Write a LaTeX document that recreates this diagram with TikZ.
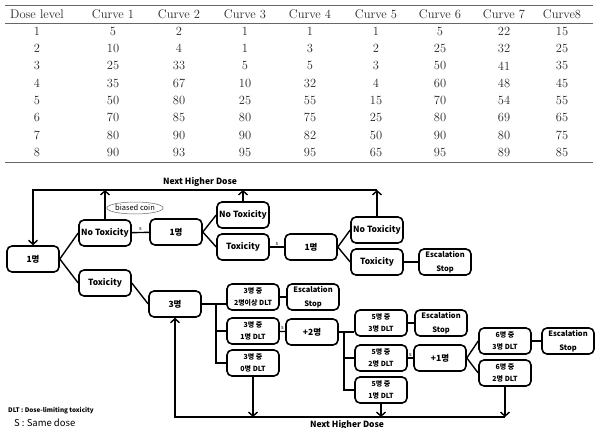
\documentclass[tikz,border=0pt]{standalone}
\usepackage{fontspec}
\newfontfamily\kr{Noto Sans CJK KR}
\usetikzlibrary{positioning,arrows.meta,shapes.geometric}
\tikzset{
  flowline/.style={line width=1.4pt},
  flowarrow/.style={line width=1.4pt, -{Straight Barb[length=4pt,width=9pt]}},
  stagebox/.style={draw, rounded corners=5pt, line width=1.6pt, fill=white, minimum width=52pt, minimum height=26pt, align=center, inner sep=1pt, font=\kr\bfseries\fontsize{8.5}{10}\selectfont},
  stopbox/.style={stagebox, font=\kr\bfseries\fontsize{7.5}{14}\selectfont},
  dltbox/.style={stagebox, font=\kr\bfseries\fontsize{7}{12}\selectfont},
  samelabel/.style={font=\kr\fontsize{5.5}{6}\selectfont, inner sep=0.8pt},
  cell/.style={font=\fontsize{12.5}{15}\selectfont, text=black!85},
  tablerule/.style={draw=black!60, line width=0.9pt}
}

\begin{document}
\begin{tikzpicture}[x=1pt, y=-1pt]
  \useasboundingbox (0,0) rectangle (597,428);

  % table of toxicity curves
  \draw[tablerule] (5,5) -- (593,5);
  \draw[tablerule, line width=0.6pt] (5,23) -- (593,23);
  \draw[tablerule] (5,162) -- (593,162);
  \foreach \lbl/\cx [count=\c] in {Dose level/37, Curve 1/113, Curve 2/179, Curve 3/245, Curve 4/310, Curve 5/376, Curve 6/440, Curve 7/504, Curve8/562}
    \node[cell] (head\c) at (\cx,14) {\lbl};
  \foreach \row [count=\r] in {{1,5,2,1,1,1,5,22,15},{2,10,4,1,3,2,25,32,25},{3,25,33,5,5,3,50,41,35},{4,35,67,10,32,4,60,48,45},{5,50,80,25,55,15,70,54,55},{6,70,85,80,75,25,80,69,65},{7,80,90,90,82,50,90,80,75},{8,90,93,95,95,65,95,89,85}}
    \foreach \v [count=\c] in \row {
      \pgfmathsetmacro\cx{{37,113,179,245,310,376,440,504,562}[\c-1]}
      \node[cell] (val\r-\c) at (\cx,{14+17.3*\r}) {\v};
    }

  % first stage: one patient at a time
  \node[stagebox] (one) at (33,259) {1명};
  \node[stagebox] (notox) at (105,233) {No Toxicity};
  \node[stagebox] (tox) at (105,283) {Toxicity};
  \node[stagebox] (oneb) at (176,232) {1명};
  \node[stagebox] (notoxb) at (243,215) {No Toxicity};
  \node[stagebox] (toxb) at (243,247) {Toxicity};
  \node[stagebox] (onec) at (311,247) {1명};
  \node[stagebox] (notoxc) at (377,230) {No Toxicity};
  \node[stagebox] (toxc) at (377,262) {Toxicity};
  \node[stopbox] (stopa) at (445,262) {Escalation\\Stop};
  \node[ellipse, draw=black!60, line width=0.5pt, minimum width=54pt, minimum height=12pt, inner sep=0pt, font=\kr\fontsize{7.5}{9}\selectfont] (coin) at (135,208) {biased coin};

  % second stage: cohorts of three
  \node[stagebox] (three) at (175,304) {3명};
  \node[dltbox] (threetwo) at (253,297) {3명 중\\2명이상 DLT};
  \node[stopbox] (stopb) at (313,297) {Escalation\\Stop};
  \node[dltbox] (threeone) at (253,331) {3명 중\\1명 DLT};
  \node[dltbox] (threezero) at (253,363) {3명 중\\0명 DLT};
  \node[stagebox] (plustwo) at (312,332) {+2명};
  \node[dltbox] (fivethree) at (381,323) {5명 중\\3명 DLT};
  \node[stopbox] (stopc) at (441,323) {Escalation\\Stop};
  \node[dltbox] (fivetwo) at (381,358) {5명 중\\2명 DLT};
  \node[dltbox] (fiveone) at (381,390) {5명 중\\1명 DLT};
  \node[stagebox] (plusone) at (440,358) {+1명};
  \node[dltbox] (sixthree) at (505,341) {6명 중\\3명 DLT};
  \node[stopbox] (stopd) at (568,341) {Escalation\\Stop};
  \node[dltbox] (sixtwo) at (505,373) {6명 중\\2명 DLT};

  % labels and legend
  \node[font=\kr\bfseries\fontsize{8.5}{10}\selectfont] (topnext) at (200,182) {Next Higher Dose};
  \node[font=\kr\bfseries\fontsize{8.5}{10}\selectfont] (botnext) at (347,425) {Next Higher Dose};
  \node[anchor=west, font=\kr\bfseries\fontsize{6.3}{7}\selectfont, inner sep=0pt] (legdlt) at (8,411) {DLT : Dose-limiting toxicity};
  \node[anchor=west, font=\kr\fontsize{9.5}{10}\selectfont, inner sep=0pt] (legsame) at (14,423) {S : Same dose};

  % connectors
  \draw[flowline] (one.east) -- (notox.west);
  \draw[flowline] (one.east) -- (tox.west);
  \draw[flowline] (notox) -- node[samelabel, above]{s} (oneb);
  \draw[flowline] (oneb.east) -- (notoxb.west);
  \draw[flowline] (oneb.east) -- (toxb.west);
  \draw[flowline] (toxb) -- node[samelabel, above]{s} (onec);
  \draw[flowline] (onec.east) -- (notoxc.west);
  \draw[flowline] (onec.east) -- (toxc.west);
  \draw[flowline] (toxc) -- (stopa);
  \draw[flowline] (tox.east) -- (three.west);

  \coordinate (busa) at (216,0);
  \draw[flowline] (three.east) -- (threetwo.west |- three.east);
  \draw[flowline] (busa |- three.east) |- (threezero.west);
  \draw[flowline] (busa |- threeone.west) -- (threeone.west);
  \draw[flowline] (threetwo) -- (stopb);
  \draw[flowline] (threeone) -- node[samelabel, above]{s} (plustwo);

  \coordinate (busb) at (344,0);
  \draw[flowline] (plustwo.east) -- (fivethree.west |- plustwo.east);
  \draw[flowline] (busb |- plustwo.east) |- (fiveone.west);
  \draw[flowline] (busb |- fivetwo.west) -- (fivetwo.west);
  \draw[flowline] (fivethree) -- (stopc);
  \draw[flowline] (fivetwo) -- node[samelabel, above]{s} (plusone);
  \draw[flowline] (plusone.east) -- (sixthree.west);
  \draw[flowline] (plusone.east) -- (sixtwo.west);
  \draw[flowline] (sixthree) -- (stopd);

  % next higher dose loops
  \coordinate (toprow) at (0,190);
  \draw[flowarrow] (notox.north) -- (notox.north |- toprow);
  \draw[flowarrow] (notoxb.north) -- (notoxb.north |- toprow);
  \draw[flowarrow] (notoxc.north) -- (notoxc.north |- toprow);
  \draw[flowarrow] (notoxc.north |- toprow) -| (one.north);

  \coordinate (botrow) at (0,417);
  \draw[flowarrow] (threezero.south) -- (threezero.south |- botrow);
  \draw[flowarrow] (fiveone.south) -- (fiveone.south |- botrow);
  \draw[flowarrow] (sixtwo.south) -- (sixtwo.south |- botrow);
  \draw[flowarrow] (sixtwo.south |- botrow) -| (three.south);
\end{tikzpicture}
\end{document}
